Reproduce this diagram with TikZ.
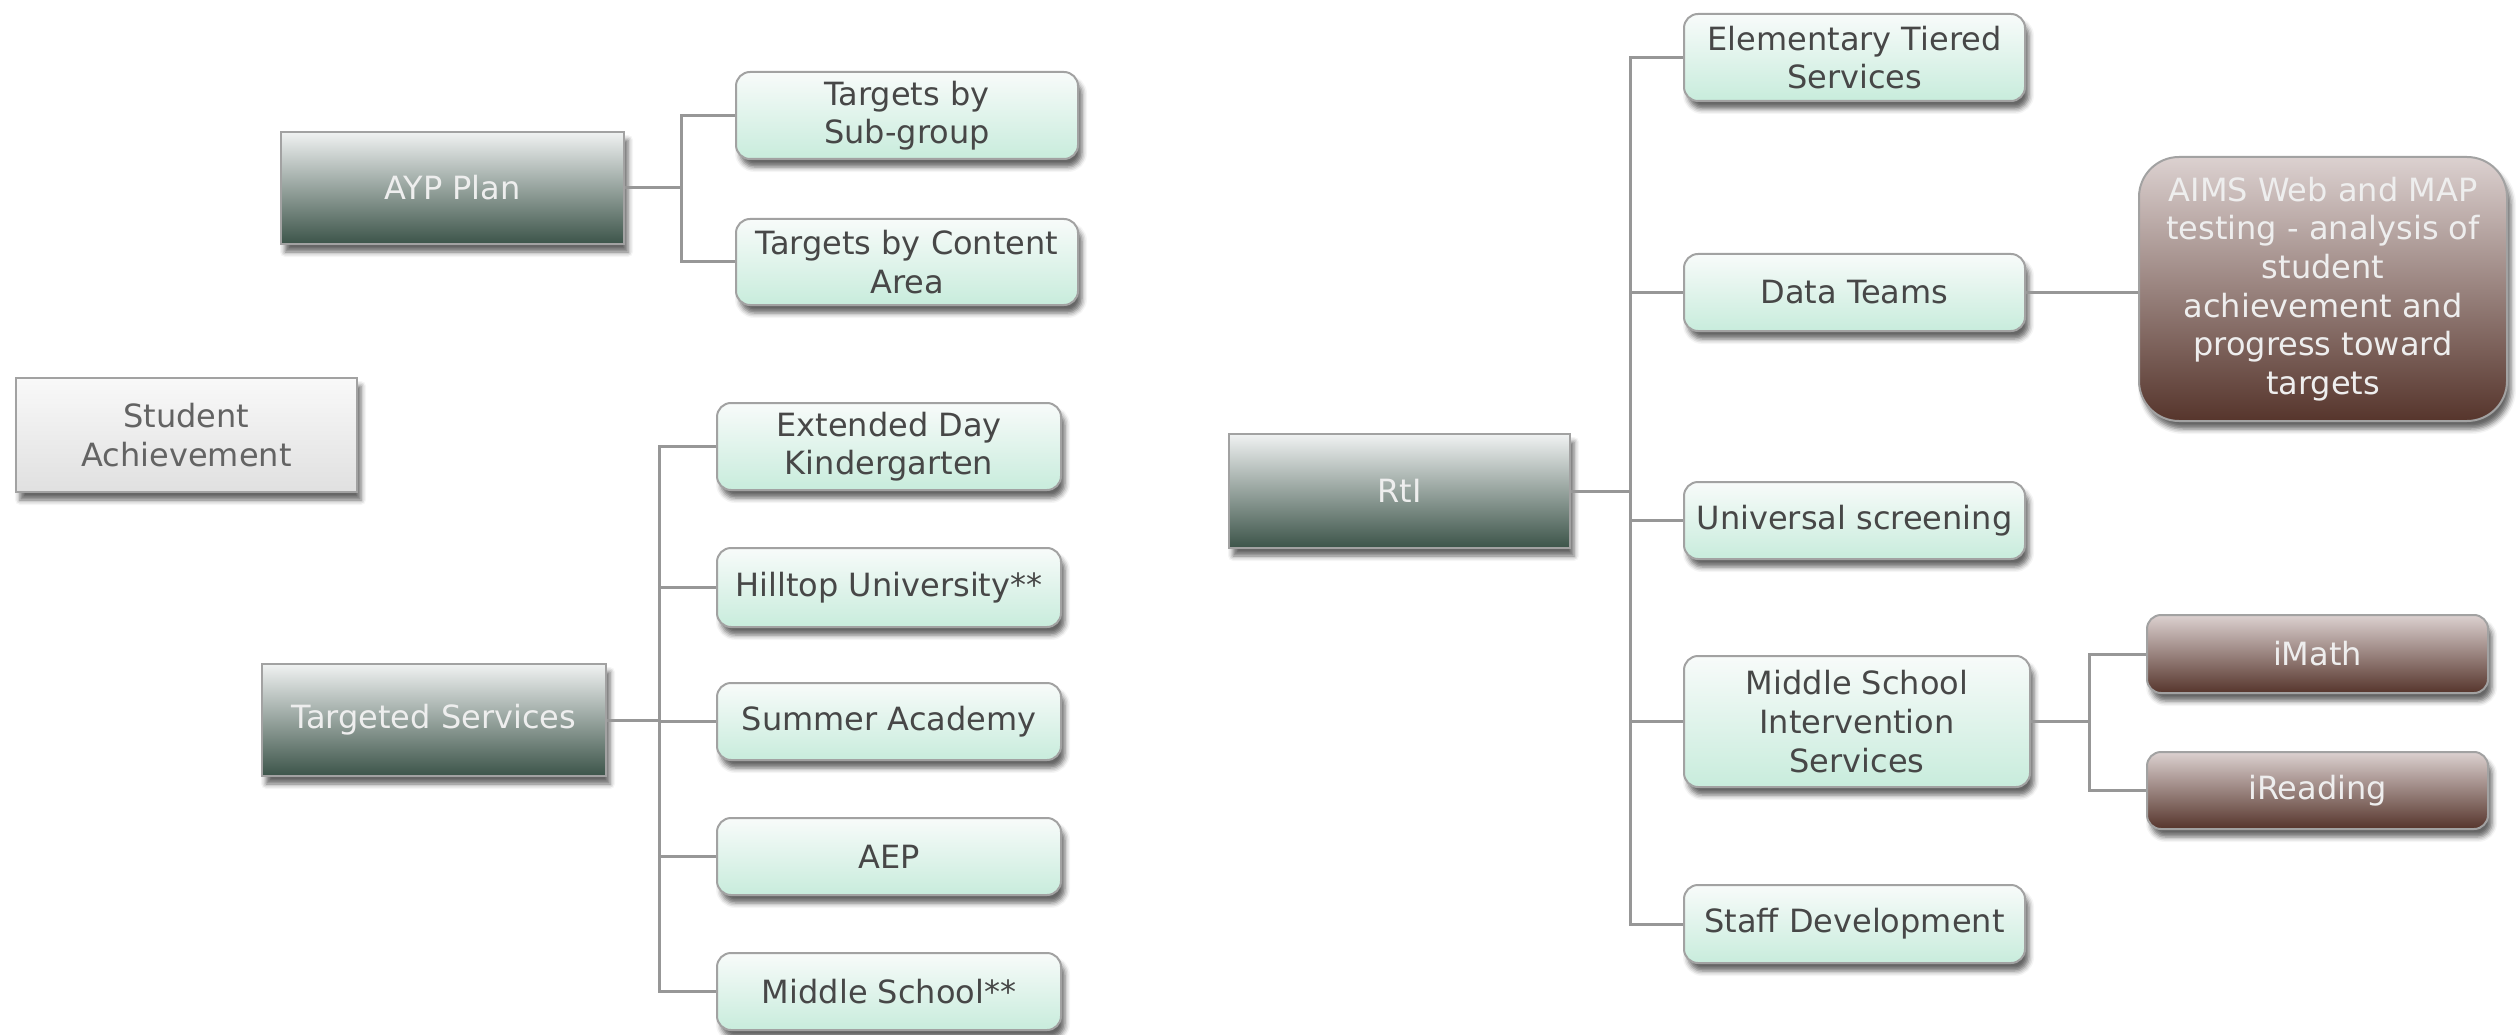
\documentclass[tikz,border=0pt]{standalone}
\usepackage{fontspec}
\setmainfont{DejaVu Sans}
\usetikzlibrary{shadows.blur,calc}

% palette
\definecolor{mintup}{HTML}{F8FBFA}
\definecolor{mintlo}{HTML}{C8ECDC}
\definecolor{pineup}{HTML}{F0F2F2}
\definecolor{pinemid}{HTML}{869A92}
\definecolor{pinelo}{HTML}{3C5449}
\definecolor{brownup}{HTML}{DCD1D0}
\definecolor{brownmid}{HTML}{937874}
\definecolor{brownlo}{HTML}{56352C}
\definecolor{greyup}{HTML}{F9F9F9}
\definecolor{greylo}{HTML}{E0E0E0}
\definecolor{edge}{HTML}{A2A2A2}
\definecolor{wire}{HTML}{979797}
\definecolor{darktext}{HTML}{474747}
\definecolor{lighttext}{HTML}{EEEEEE}

\tikzset{
  box/.style={draw=edge, line width=2pt, align=center, inner sep=0pt,
    font=\fontsize{32}{38.6}\selectfont,
    blur shadow={shadow xshift=4pt, shadow yshift=-8pt,
                 shadow blur radius=5pt, shadow opacity=60}},
  wh/.style 2 args={minimum width=#1pt, minimum height=#2pt},
  leaf/.style={box, rounded corners=14pt, top color=mintup, bottom color=mintlo,
    text=darktext},
  hub/.style={box, top color=pineup, middle color=pinemid, bottom color=pinelo,
    text=lighttext},
  rootbox/.style={box, top color=greyup, bottom color=greylo, text=darktext!85},
  detail/.style={box, top color=brownup, middle color=brownmid, bottom color=brownlo,
    text=lighttext},
  wirestyle/.style={draw=wire, line width=3pt},
}

\begin{document}
\begin{tikzpicture}[x=1pt,y=-1pt]
  \useasboundingbox (0,0) rectangle (2520,1035);

  % root
  \node[rootbox, wh={341}{114}] (student) at (186.5,435) {Student\\Achievement};

  % AYP plan branch
  \node[hub, wh={343}{112}] (ayp) at (452.5,188) {AYP Plan};
  \node[leaf, wh={342}{87}] (tsub) at (907,115.5) {Targets by\\Sub-group};
  \node[leaf, wh={342}{86}] (tcont) at (907,262) {Targets by Content\\Area};

  % targeted services branch
  \node[hub, wh={344}{112}] (targeted) at (434,720) {Targeted Services};
  \node[leaf, wh={344}{87}] (extday) at (889,446.5) {Extended Day\\Kindergarten};
  \node[leaf, wh={344}{79}] (hilltop) at (889,587.5) {Hilltop University**};
  \node[leaf, wh={344}{77}] (summer) at (889,721.5) {Summer Academy};
  \node[leaf, wh={344}{77}] (aep) at (889,856.5) {AEP};
  \node[leaf, wh={344}{77}] (middle) at (889,991.5) {Middle School**};

  % RtI branch
  \node[hub, wh={341}{114}] (rti) at (1399.5,491) {RtI};
  \node[leaf, wh={341}{87}] (elem) at (1854.5,57.5) {Elementary Tiered\\Services};
  \node[leaf, wh={341}{77}] (data) at (1854.5,292.5) {Data Teams};
  \node[leaf, wh={341}{77}] (univ) at (1854.5,520.5) {Universal screening};
  \node[leaf, wh={346}{131}] (msis) at (1857,721.5) {Middle School\\Intervention\\Services};
  \node[leaf, wh={341}{78}] (staff) at (1854.5,924) {Staff Development};

  \node[detail, rounded corners=40pt, wh={368}{264}] (aims) at (2323,289)
    {AIMS Web and MAP\\testing - analysis of\\student\\achievement and\\progress toward\\targets};
  \node[detail, rounded corners=14pt, wh={341}{78}] (imath) at (2317.5,654) {iMath};
  \node[detail, rounded corners=14pt, wh={341}{77}] (iread) at (2317.5,790.5) {iReading};

  % bus lines
  \coordinate (aypbus) at (681,0);
  \coordinate (tsbus) at (659,0);
  \coordinate (rtibus) at (1630,0);
  \coordinate (msisbus) at (2089,0);

  % connectors
  \draw[wirestyle] (ayp.east) -- (ayp.east -| aypbus);
  \draw[wirestyle] (tsub.west) -| (aypbus |- tcont.west) -- (tcont.west);

  \draw[wirestyle] (targeted.east) -- (targeted.east -| tsbus);
  \draw[wirestyle] (extday.west) -| (tsbus |- middle.west) -- (middle.west);
  \foreach \n in {hilltop,summer,aep}
    \draw[wirestyle] (tsbus |- \n.west) -- (\n.west);

  \draw[wirestyle] (rti.east) -- (rti.east -| rtibus);
  \draw[wirestyle] (elem.west) -| (rtibus |- staff.west) -- (staff.west);
  \foreach \n in {data,univ,msis}
    \draw[wirestyle] (rtibus |- \n.west) -- (\n.west);

  \draw[wirestyle] (data.east) -- (aims.west |- data.east);

  \draw[wirestyle] (msis.east) -- (msis.east -| msisbus);
  \draw[wirestyle] (imath.west) -| (msisbus |- iread.west) -- (iread.west);
\end{tikzpicture}
\end{document}
